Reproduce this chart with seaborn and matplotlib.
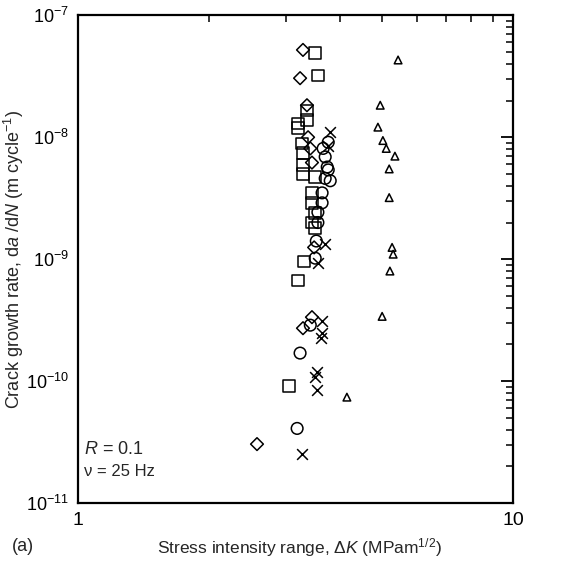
import matplotlib
matplotlib.use("Agg")
import matplotlib.pyplot as plt
import seaborn as sns
import pandas as pd
from matplotlib.ticker import LogLocator, NullFormatter, FixedLocator, FixedFormatter

sns.set_theme(style="white")
plt.rcParams['font.family'] = ['Liberation Sans', 'DejaVu Sans']
plt.rcParams['mathtext.fontset'] = 'custom'
plt.rcParams['mathtext.rm'] = 'Liberation Sans'
plt.rcParams['mathtext.it'] = 'Liberation Sans:italic'

# data: dK (MPa m^1/2), da/dN (m/cycle)
dk_diamond = [3.29, 3.24, 3.36, 3.38, 3.42, 3.45, 3.49, 3.45, 3.29, 2.58]
rate_diamond = [5.2e-8, 3.05e-8, 1.83e-8, 1.0e-8, 8.1e-9, 6.2e-9, 1.25e-9, 3.35e-10, 2.72e-10, 3.05e-11]

dk_square = [3.51, 3.56, 3.36, 3.36, 3.20, 3.20, 3.27, 3.29, 3.29, 3.29, 3.51,
             3.45, 3.45, 3.51, 3.45, 3.51, 3.31, 3.20, 3.06]
rate_square = [4.9e-8, 3.2e-8, 1.66e-8, 1.38e-8, 1.30e-8, 1.19e-8, 8.9e-9, 7.4e-9, 5.9e-9, 5.0e-9, 4.7e-9,
               3.5e-9, 2.9e-9, 2.38e-9, 2.0e-9, 1.8e-9, 9.6e-10, 6.7e-10, 9.1e-11]

dk_circle = [3.76, 3.66, 3.70, 3.74, 3.76, 3.70, 3.80, 3.64, 3.64, 3.56, 3.56, 3.53, 3.51, 3.42, 3.24, 3.19]
rate_circle = [9.1e-9, 8.1e-9, 6.9e-9, 5.7e-9, 5.4e-9, 4.6e-9, 4.4e-9, 3.5e-9, 2.9e-9, 2.43e-9, 2.0e-9,
               1.41e-9, 1.02e-9, 2.88e-10, 1.70e-10, 4.1e-11]

dk_cross = [3.80, 3.76, 3.70, 3.56, 3.64, 3.64, 3.62, 3.54, 3.51, 3.54, 3.27]
rate_cross = [1.1e-8, 8.5e-9, 1.33e-9, 9.3e-10, 3.1e-10, 2.47e-10, 2.25e-10, 1.19e-10, 1.08e-10, 8.4e-11, 2.52e-11]

dk_triangle = [5.44, 4.95, 4.89, 5.02, 5.11, 5.35, 5.19, 5.19, 5.27, 5.30, 5.21, 5.00, 4.15]
rate_triangle = [4.3e-8, 1.83e-8, 1.21e-8, 9.4e-9, 8.1e-9, 7.0e-9, 5.5e-9, 3.2e-9, 1.25e-9, 1.10e-9,
                 8.0e-10, 3.4e-10, 7.4e-11]

x_ticks = [1, 10]
x_ticklabels = ['1', '10']
y_ticks = [1e-11, 1e-10, 1e-9, 1e-8, 1e-7]
y_ticklabels = [r'$10^{-11}$', r'$10^{-10}$', r'$10^{-9}$', r'$10^{-8}$', r'$10^{-7}$']

series = [
    (dk_diamond, rate_diamond, 'D', 42),
    (dk_square, rate_square, 's', 70),
    (dk_circle, rate_circle, 'o', 70),
    (dk_triangle, rate_triangle, '^', 30),
]

fig = plt.figure(figsize=(5.76, 5.66), dpi=100)
ax = fig.add_axes([0.135, 0.111, 0.756, 0.862])

for dk, rate, mk, sz in series:
    df = pd.DataFrame({'dK': dk, 'rate': rate})
    sns.scatterplot(ax=ax, data=df, x='dK', y='rate', marker=mk, s=sz,
                    facecolor='none', edgecolor='black', linewidth=1.1, zorder=3)

df_x = pd.DataFrame({'dK': dk_cross, 'rate': rate_cross})
sns.scatterplot(ax=ax, data=df_x, x='dK', y='rate', marker='x', s=60,
                color='black', linewidth=1.1, zorder=3)

ax.set(xscale='log', yscale='log')
ax.set_xlim(1, 10)
ax.set_ylim(1e-11, 1e-7)

ax.xaxis.set_major_locator(FixedLocator(x_ticks))
ax.xaxis.set_major_formatter(FixedFormatter(x_ticklabels))
ax.xaxis.set_minor_locator(LogLocator(base=10, subs=range(2, 10)))
ax.xaxis.set_minor_formatter(NullFormatter())
ax.yaxis.set_major_locator(FixedLocator(y_ticks))
ax.yaxis.set_major_formatter(FixedFormatter(y_ticklabels))
ax.yaxis.set_minor_locator(LogLocator(base=10, subs=range(2, 10)))
ax.yaxis.set_minor_formatter(NullFormatter())

ax.tick_params(which='both', direction='in', top=True, right=True, colors='black')
ax.tick_params(axis='x', labelsize=14)
ax.tick_params(axis='y', labelsize=13)
ax.tick_params(which='major', length=9, width=1.3, pad=6)
ax.tick_params(which='minor', length=5, width=1.1)
for sp in ax.spines.values():
    sp.set_color('black')
    sp.set_linewidth(1.6)

ax.set_xlabel(r'Stress intensity range, $\Delta\mathit{K}$ (MPam$^{1/2}$)', fontsize=12.5)
ax.xaxis.set_label_coords(0.51, -0.068)
ax.set_ylabel(r'Crack growth rate, d$\mathit{a}$ /d$\mathit{N}$ (m cycle$^{-1}$)', fontsize=13)
ax.yaxis.set_label_coords(-0.118, 0.5)

ax.text(0.015, 0.109, r'$\mathit{R}$ = 0.1', transform=ax.transAxes, fontsize=13, va='center')
ax.text(0.015, 0.064, 'ν = 25 Hz', transform=ax.transAxes, fontsize=12, va='center')
fig.text(0.02, 0.034, '(a)', fontsize=13, va='center')

fig.savefig('out.png', dpi=100)
